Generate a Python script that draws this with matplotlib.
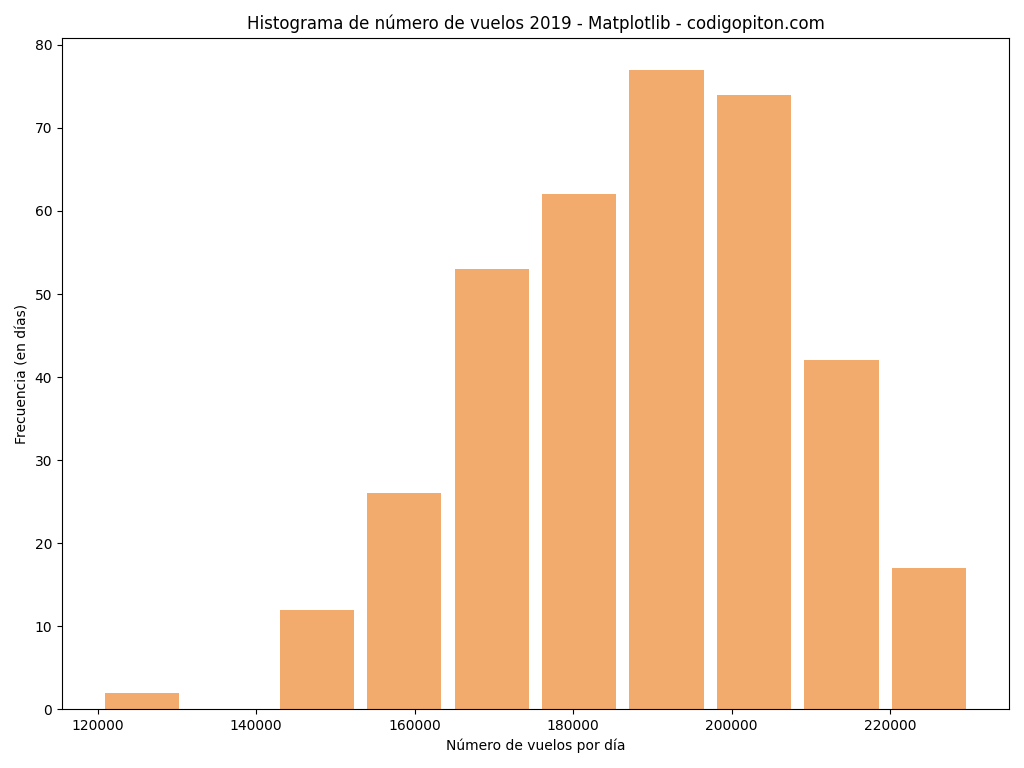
import numpy as np
import matplotlib
matplotlib.use("Agg")
import matplotlib.pyplot as plt

# histogram of daily flights, 2019 (counts)
bin_start = 120100
bin_width = 11030
counts = [2, 0, 12, 26, 53, 62, 77, 74, 42, 17]

edges = bin_start + bin_width * np.arange(len(counts) + 1)
centers = (edges[:-1] + edges[1:]) / 2

fig, ax = plt.subplots(figsize=(10.24, 7.68), dpi=100)
ax.hist(centers, bins=edges, weights=counts, rwidth=0.85, color="#F2AB6D")
ax.set_title("Histograma de número de vuelos 2019 - Matplotlib - codigopiton.com", fontsize=12)
ax.set_xlabel("Número de vuelos por día")
ax.set_ylabel("Frecuencia (en días)")
plt.tight_layout()
plt.savefig("out.png")
plt.close()
